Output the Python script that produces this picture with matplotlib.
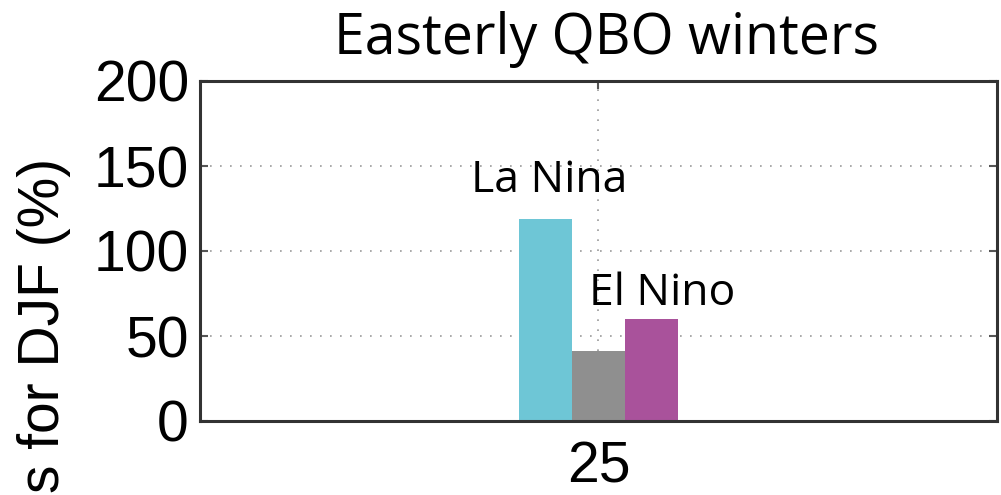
import matplotlib
matplotlib.use("Agg")
import matplotlib.pyplot as plt

categories = [25]
series_names = ["La Nina", "Neutral", "El Nino"]
values = [119, 41, 60]
colors = ["#6EC6D6", "#8F8F8F", "#A9529B"]
yticks = [0, 50, 100, 150, 200]

fig = plt.figure(figsize=(10.01, 4.95), dpi=100)
ax = fig.add_axes([200/1001, 1-421/495, 797/1001, 340/495])

width = 1.0
offsets = [-1, 0, 1]
for off, v, c in zip(offsets, values, colors):
    ax.bar(categories[0] + off*width, v, width=width, color=c, zorder=2, edgecolor='none')

ax.set_xlim(categories[0] - 7.5, categories[0] + 7.5)
ax.set_ylim(0, 200)
ax.set_yticks(yticks)
ax.set_xticks(categories)
ax.grid(True, linestyle=(0, (1, 5)), color='#999999', linewidth=1.2, zorder=1)
for s in ax.spines.values():
    s.set_color('#333333')
    s.set_linewidth(2.2)
ax.tick_params(axis='both', direction='in', length=6, width=1.5, color='#555555',
               labelsize=41, pad=8, right=True, top=True,
               labelfontfamily='Liberation Sans')
ax.tick_params(axis='x', pad=14)

ax.text(25 - 0.92, 128, "La Nina", fontsize=32, family='Open Sans', ha='center', va='bottom')
ax.text(25 + 1.2, 62, "El Nino", fontsize=32, family='Open Sans', ha='center', va='bottom')

fig.text(606/1001, 1-40/495, "Easterly QBO winters", fontsize=40, family='Open Sans',
         ha='center', va='center')
fig.text(44/1001, 1-158/495, "s for DJF (%)", fontsize=41, family='Liberation Sans',
         rotation=90, ha='center', va='top')

fig.savefig("out.png", dpi=100)
